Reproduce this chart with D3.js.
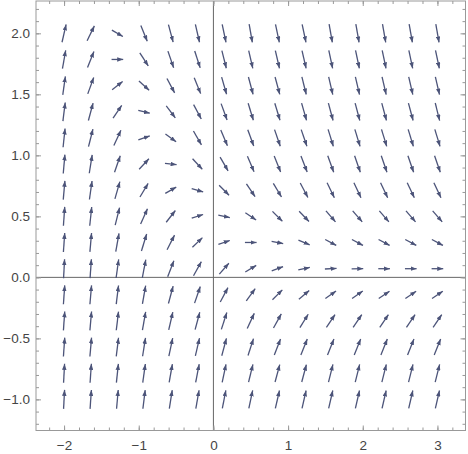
<!DOCTYPE html>
<html>
<head>
<meta charset="utf-8">
<script src="https://cdn.jsdelivr.net/npm/d3@7"></script>
<style>
	body { margin: 0; background: #fff; }
	svg { display: block; }
	.tick text { font-family: "Liberation Sans", Arial, sans-serif; font-size: 13.5px; fill: #444; }
</style>
</head>
<body>
<div id="graph"></div>
<script>
/*
 * grid of arrow centres
 */
var xs = [-2, -1.643, -1.286, -0.929, -0.571, -0.214, 0.143, 0.5,
	0.857, 1.214, 1.571, 1.929, 2.286, 2.643, 3];
var ys = [2, 1.786, 1.571, 1.357, 1.143, 0.929, 0.714, 0.5,
	0.286, 0.071, -0.143, -0.357, -0.571, -0.786, -1];

/*
 * arrow direction as seen on screen, degrees from +x, one row per ys value
 */
var angles = [
	[77, 64, -30, -68, -75, -77, -78, -80, -78, -78, -80, -80, -80, -80, -80],
	[80, 68, 0, -57, -71, -72, -76, -77, -77, -77, -78, -78, -78, -78, -78],
	[82, 70, 38, -42, -62, -68, -74, -75, -75, -76, -77, -77, -77, -77, -77],
	[83, 75, 56, -14, -53, -62, -70, -73, -73, -74, -75, -75, -75, -75, -76],
	[84, 76, 65, 19, -36, -60, -67, -70, -71, -71, -73, -73, -73, -73, -73],
	[85, 81, 71, 47, -7, -47, -60, -67, -68, -69, -70, -71, -71, -71, -71],
	[85, 82, 74, 59, 30, -16, -45, -56, -59, -62, -64, -65, -65, -65, -65],
	[86, 84, 76, 66, 52, 18, -12, -34, -45, -46, -49, -49, -49, -49, -49],
	[86, 85, 80, 73, 63, 44, 19, 0, -11, -23, -28, -28, -28, -28, -28],
	[87, 86, 82, 79, 69, 61, 49, 31, 20, 12, 3, 1, 0, 0, 0],
	[86, 85, 83, 80, 75, 71, 62, 54, 45, 40, 35, 35, 34, 34, 34],
	[86, 85, 83, 80, 77, 75, 72, 65, 61, 58, 56, 56, 56, 56, 56],
	[86, 85, 83, 81, 78, 77, 75, 72, 69, 68, 68, 68, 68, 68, 68],
	[87, 86, 84, 82, 80, 79, 78, 76, 75, 75, 76, 76, 76, 76, 76],
	[87, 86, 85, 83, 81, 80, 79, 78, 77, 77, 77, 77, 77, 77, 77]
];

var xTicks = [-2, -1, 0, 1, 2, 3];
var yTicks = [-1, -0.5, 0, 0.5, 1, 1.5, 2];

var width = 468, height = 454;
var frameL = 36, frameR = 465.5, frameT = 1, frameB = 430.5;
var arrowLen = 0.156; // data units, normalised like mathematica does
var arrowColor = "#4c5479";

var xScale = d3.scaleLinear()
	.domain([-2.376, 3.376])
	.range([frameL, frameR]);
var yScale = d3.scaleLinear()
	.domain([-1.255, 2.265])
	.range([frameB, frameT]);

var svg = d3.select("#graph").append("svg")
	.attr("width", width)
	.attr("height", height);

svg.append("defs").append("marker")
	.attr("id", "head")
	.attr("viewBox", "0 -3 8 6")
	.attr("refX", 8)
	.attr("refY", 0)
	.attr("markerUnits", "userSpaceOnUse")
	.attr("markerWidth", 6)
	.attr("markerHeight", 4.6)
	.attr("orient", "auto")
	.append("path")
	.attr("d", "M0,-3L8,0L0,3Z")
	.attr("fill", arrowColor);

// axes through the origin
svg.append("line")
	.attr("x1", xScale(0)).attr("x2", xScale(0))
	.attr("y1", frameT).attr("y2", frameB)
	.attr("stroke", "#666").attr("stroke-width", 1);
svg.append("line")
	.attr("x1", frameL).attr("x2", frameR)
	.attr("y1", yScale(0)).attr("y2", yScale(0))
	.attr("stroke", "#666").attr("stroke-width", 1);

// arrows
var kx = xScale(1) - xScale(0), ky = yScale(0) - yScale(1);
var arrows = [];
ys.forEach(function (y, i) {
	xs.forEach(function (x, j) {
		var a = angles[i][j] * Math.PI / 180;
		var ux = Math.cos(a) / kx, uy = Math.sin(a) / ky;
		var n = Math.hypot(ux, uy);
		ux *= arrowLen / n / 2;
		uy *= arrowLen / n / 2;
		arrows.push({ x0: x - ux, y0: y - uy, x1: x + ux, y1: y + uy });
	});
});

svg.append("g")
	.attr("stroke", arrowColor)
	.attr("stroke-width", 1.3)
	.selectAll("line")
	.data(arrows)
	.enter().append("line")
	.attr("x1", function (d) { return xScale(d.x0); })
	.attr("y1", function (d) { return yScale(d.y0); })
	.attr("x2", function (d) { return xScale(d.x1); })
	.attr("y2", function (d) { return yScale(d.y1); })
	.attr("marker-end", "url(#head)");

// frame ticks
function range(a, b, s) {
	return d3.range(Math.round(a / s), Math.round(b / s) + 1)
		.map(function (k) { return +(k * s).toFixed(3); });
}
var xMinor = range(-2.2, 3.2, 0.2);
var yMinor = range(-1.2, 2.2, 0.1);

function styleAxis(g) {
	g.select(".domain").remove();
	g.selectAll(".tick line").attr("stroke", "#999");
}

svg.append("g").attr("transform", "translate(0," + frameB + ")")
	.call(d3.axisBottom(xScale).tickValues(xMinor).tickSize(-3).tickFormat(""))
	.call(styleAxis);
svg.append("g").attr("transform", "translate(0," + frameB + ")")
	.call(d3.axisBottom(xScale).tickValues(xTicks).tickSize(-5).tickPadding(10)
		.tickFormat(d3.format("d")))
	.call(styleAxis);
svg.append("g").attr("transform", "translate(0," + frameT + ")")
	.call(d3.axisTop(xScale).tickValues(xMinor).tickSize(-3).tickFormat(""))
	.call(styleAxis);
svg.append("g").attr("transform", "translate(0," + frameT + ")")
	.call(d3.axisTop(xScale).tickValues(xTicks).tickSize(-5).tickFormat(""))
	.call(styleAxis);

svg.append("g").attr("transform", "translate(" + frameL + ",0)")
	.call(d3.axisLeft(yScale).tickValues(yMinor).tickSize(-3).tickFormat(""))
	.call(styleAxis);
svg.append("g").attr("transform", "translate(" + frameL + ",0)")
	.call(d3.axisLeft(yScale).tickValues(yTicks).tickSize(-5).tickPadding(6)
		.tickFormat(d3.format(".1f")))
	.call(styleAxis);
svg.append("g").attr("transform", "translate(" + frameR + ",0)")
	.call(d3.axisRight(yScale).tickValues(yMinor).tickSize(-3).tickFormat(""))
	.call(styleAxis);
svg.append("g").attr("transform", "translate(" + frameR + ",0)")
	.call(d3.axisRight(yScale).tickValues(yTicks).tickSize(-5).tickFormat(""))
	.call(styleAxis);

// frame
svg.append("rect")
	.attr("x", frameL).attr("y", frameT)
	.attr("width", frameR - frameL).attr("height", frameB - frameT)
	.attr("fill", "none")
	.attr("stroke", "#999")
	.attr("stroke-width", 1);
</script>
</body>
</html>
